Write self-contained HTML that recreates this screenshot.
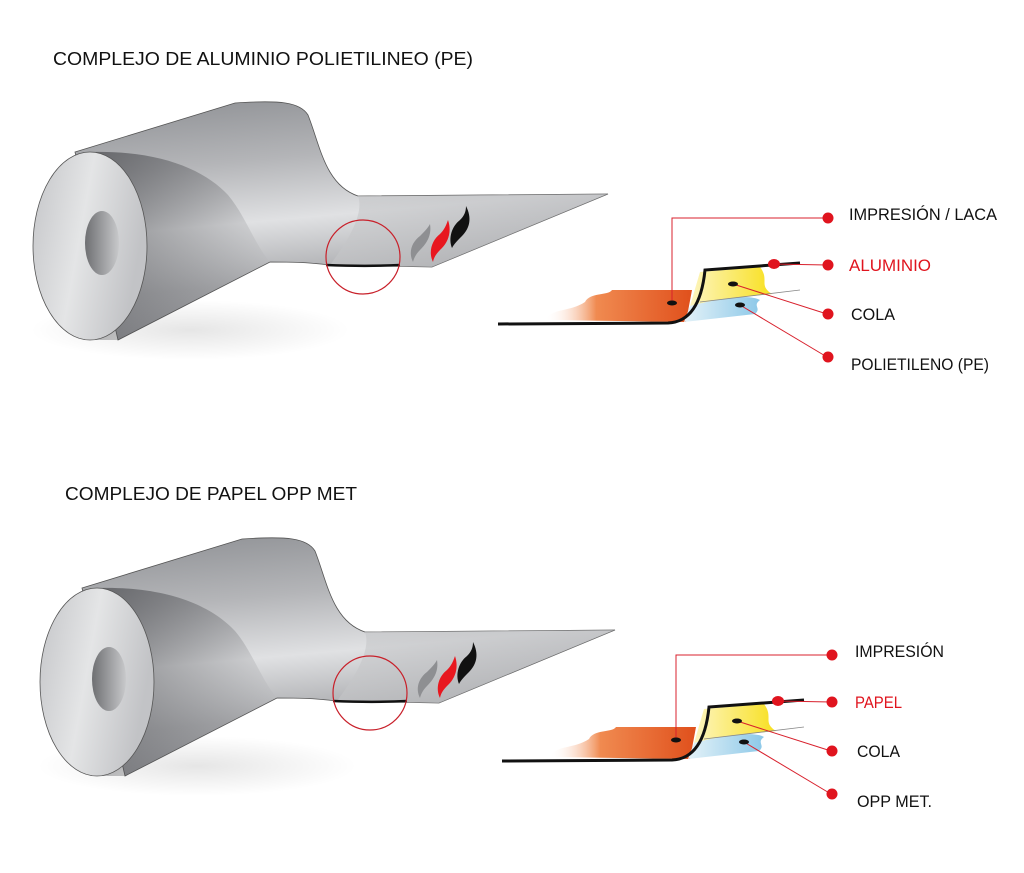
<!DOCTYPE html>
<html><head><meta charset="utf-8"><style>
html,body{margin:0;padding:0;background:#fff;}
svg{display:block;}
text{font-family:"Liberation Sans",sans-serif;}
</style></head><body>
<svg width="1024" height="873" viewBox="0 0 1024 873" xmlns="http://www.w3.org/2000/svg">
<defs>
<linearGradient id="body" x1="0" y1="0" x2="0.2" y2="1">
<stop offset="0" stop-color="#8e9094"/><stop offset="0.3" stop-color="#b4b5b8"/><stop offset="0.55" stop-color="#e0e1e3"/><stop offset="0.8" stop-color="#a9aaad"/><stop offset="1" stop-color="#909195"/>
</linearGradient>
<linearGradient id="face" x1="0" y1="0" x2="1" y2="0.3">
<stop offset="0" stop-color="#c4c5c8"/><stop offset="0.5" stop-color="#e4e5e6"/><stop offset="1" stop-color="#c2c3c6"/>
</linearGradient>
<linearGradient id="hole" x1="0" y1="0" x2="1" y2="0">
<stop offset="0" stop-color="#6e6f72"/><stop offset="1" stop-color="#c8c9cb"/>
</linearGradient>
<linearGradient id="flap" x1="0" y1="0" x2="1" y2="0">
<stop offset="0" stop-color="#c6c7c9"/><stop offset="1" stop-color="#b2b3b6"/>
</linearGradient>
<linearGradient id="dark" x1="0" y1="0" x2="1" y2="0.6">
<stop offset="0" stop-color="#4a4b4f" stop-opacity="0.7"/><stop offset="1" stop-color="#4a4b4f" stop-opacity="0"/>
</linearGradient>
<linearGradient id="orange" x1="0" y1="0" x2="1" y2="0">
<stop offset="0" stop-color="#fff" stop-opacity="0"/><stop offset="0.35" stop-color="#f08a50"/><stop offset="1" stop-color="#e0501c"/>
</linearGradient>
<linearGradient id="yellow" x1="0" y1="0" x2="1" y2="0">
<stop offset="0" stop-color="#fdf5c0"/><stop offset="1" stop-color="#f8e020"/>
</linearGradient>
<linearGradient id="blue" x1="0" y1="0" x2="1" y2="0">
<stop offset="0" stop-color="#e4f2f8"/><stop offset="1" stop-color="#8cc8e8"/>
</linearGradient>
<radialGradient id="shadow" cx="0.5" cy="0.5" r="0.5">
<stop offset="0" stop-color="#000" stop-opacity="0.1"/><stop offset="1" stop-color="#000" stop-opacity="0"/>
</radialGradient>
<g id="roll">
<ellipse cx="190" cy="330" rx="160" ry="30" fill="url(#shadow)"/>
<path d="M75,152 L235,103 C280,100 300,102 308,115 C320,145 325,185 358,196 L608,194 L432,267 L330,265 C305,262 290,262 270,262 L118,340 Z" fill="url(#body)" stroke="#555" stroke-width="0.8"/>
<path d="M358,196 L608,194 L432,267 L330,265 C345,245 365,215 358,196 Z" fill="url(#flap)" opacity="0.55"/>
<path d="M90,152 C160,150 205,170 228,195 C245,215 255,245 270,262 L118,340 L90,340 Z" fill="url(#dark)"/>
<ellipse cx="90" cy="246" rx="57" ry="94" fill="url(#face)" stroke="#555" stroke-width="0.8"/>
<ellipse cx="102" cy="243" rx="17" ry="32" fill="url(#hole)"/>
<path d="M326,265 C350,266 380,266 400,265" stroke="#111" stroke-width="2.5" fill="none"/>
<circle cx="363" cy="257" r="37" fill="none" stroke="#c8202a" stroke-width="1.2"/>
<path d="M413,262 C408,252 412,242 420,236 C424,232 428,228 430,224 C432,236 426,244 420,250 C416,254 414,258 413,262 Z" fill="#8e8f92"/>
<path d="M433,262 C428,252 432,240 440,234 C444,230 446,226 448,220 C452,232 448,242 442,248 C438,252 434,256 433,262 Z" fill="#e8171f"/>
<path d="M452,248 C448,238 452,226 460,220 C464,216 466,212 466,206 C472,218 470,228 462,236 C458,240 454,244 452,248 Z" fill="#111"/>
</g>
<g id="diag">
<path d="M545,320 C552,308 570,312 585,302 C590,292 608,296 612,290 L692,290 L686,322 Z" fill="url(#orange)"/>
<path d="M700,272 L760,267 C770,280 758,285 772,294 C740,297 712,300 690,306 Z" fill="url(#yellow)"/>
<path d="M690,306 C720,298 750,294 760,300 C752,306 762,308 755,314 L684,322 Z" fill="url(#blue)"/>
<path d="M700,302 L800,290" stroke="#888" stroke-width="0.8"/>
<path d="M498,324 L668,323 C692,322 702,300 705,270 L800,263" stroke="#111" stroke-width="3" fill="none"/>
<g stroke="#d8202c" stroke-width="1" fill="none">
<path d="M672,302 L672,218 L827,218"/>
<path d="M773,264 L827,265"/>
<path d="M733,284 L827,314"/>
<path d="M740,305 L827,357"/>
</g>
<ellipse cx="672" cy="303" rx="5" ry="2.5" fill="#111"/>
<ellipse cx="733" cy="284" rx="5" ry="2.5" fill="#111"/>
<ellipse cx="740" cy="305" rx="5" ry="2.5" fill="#111"/>
<ellipse cx="774" cy="264" rx="6" ry="5" fill="#e0141e"/>
<circle cx="828" cy="218" r="5.5" fill="#e0141e"/>
<circle cx="828" cy="265" r="5.5" fill="#e0141e"/>
<circle cx="828" cy="314" r="5.5" fill="#e0141e"/>
<circle cx="828" cy="357" r="5.5" fill="#e0141e"/>
</g>
</defs>
<text x="53" y="65" font-size="18" fill="#111" textLength="420" lengthAdjust="spacingAndGlyphs">COMPLEJO DE ALUMINIO POLIETILINEO (PE)</text>
<use href="#roll"/>
<use href="#diag"/>
<text x="849" y="220" font-size="16.5" fill="#111" textLength="148" lengthAdjust="spacingAndGlyphs">IMPRESIÓN / LACA</text>
<text x="849" y="271" font-size="16.5" fill="#e0141e" textLength="82" lengthAdjust="spacingAndGlyphs">ALUMINIO</text>
<text x="851" y="320" font-size="16.5" fill="#111" textLength="44" lengthAdjust="spacingAndGlyphs">COLA</text>
<text x="851" y="370" font-size="16.5" fill="#111" textLength="138" lengthAdjust="spacingAndGlyphs">POLIETILENO (PE)</text>

<text x="65" y="500" font-size="18" fill="#111" textLength="292" lengthAdjust="spacingAndGlyphs">COMPLEJO DE PAPEL OPP MET</text>
<use href="#roll" transform="translate(7,436)"/>
<use href="#diag" transform="translate(4,437)"/>
<text x="855" y="657" font-size="16.5" fill="#111" textLength="89" lengthAdjust="spacingAndGlyphs">IMPRESIÓN</text>
<text x="855" y="708" font-size="16.5" fill="#e0141e" textLength="47" lengthAdjust="spacingAndGlyphs">PAPEL</text>
<text x="857" y="757" font-size="16.5" fill="#111" textLength="43" lengthAdjust="spacingAndGlyphs">COLA</text>
<text x="857" y="807" font-size="16.5" fill="#111" textLength="75" lengthAdjust="spacingAndGlyphs">OPP MET.</text>
</svg>
</body></html>
